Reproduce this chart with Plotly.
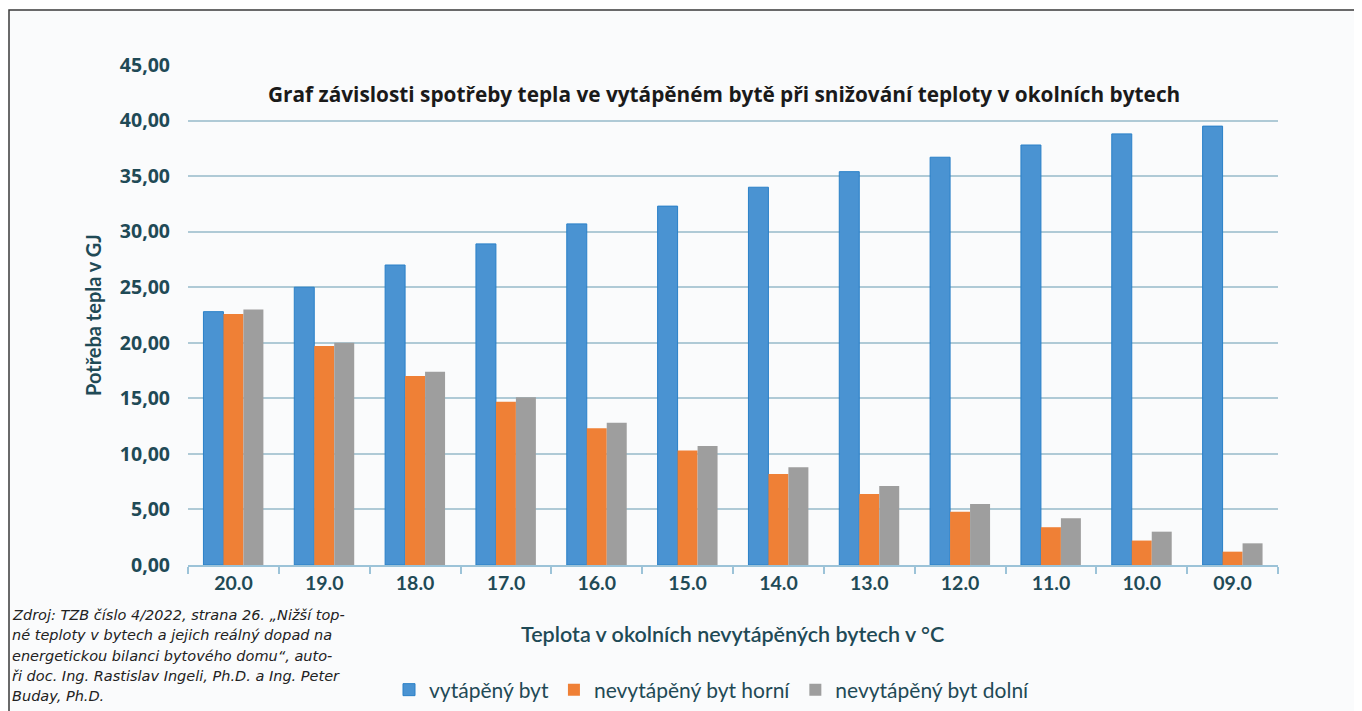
import plotly.graph_objects as go

categories = ["20.0", "19.0", "18.0", "17.0", "16.0", "15.0", "14.0", "13.0", "12.0", "11.0", "10.0", "09.0"]
vytapeny = [22.8, 25.0, 27.0, 28.9, 30.7, 32.3, 34.0, 35.4, 36.7, 37.8, 38.8, 39.5]
horni = [22.6, 19.7, 17.0, 14.7, 12.3, 10.3, 8.2, 6.4, 4.8, 3.4, 2.2, 1.2]
dolni = [23.0, 20.0, 17.4, 15.1, 12.8, 10.7, 8.8, 7.1, 5.5, 4.2, 3.0, 1.95]
y_ticks = [0, 5, 10, 15, 20, 25, 30, 35, 40, 45]
y_tick_labels = ["0,00", "5,00", "10,00", "15,00", "20,00", "25,00", "30,00", "35,00", "40,00", "45,00"]
series_names = ["vytápěný byt", "nevytápěný byt horní", "nevytápěný byt dolní"]
source_lines = [
    "Zdroj: TZB číslo 4/2022, strana 26. „Nižší top-",
    "né teploty v bytech a jejich reálný dopad na",
    "energetickou bilanci bytového domu“, auto-",
    "ři doc. Ing. Rastislav Ingeli, Ph.D. a Ing. Peter",
    "Buday, Ph.D.",
]

# page offset of the figure (body margin)
OFF = 8
W, H = 1362 - OFF, 711 - OFF
PL, PR, PT, PB = 188, 1278, 65, 565  # plot area in page pixels
L, R, T, B = PL - OFF, W - (PR - OFF), PT - OFF, H - (PB - OFF)
PW, PH = PR - PL, PB - PT


def px(x):
    return (x - PL) / PW


def py(y):
    return (PB - y) / PH


fig = go.Figure()
fig.add_trace(go.Bar(x=categories, y=vytapeny, name=series_names[0],
                     marker=dict(color="#4a93d2", line=dict(color="#2a80c8", width=1))))
fig.add_trace(go.Bar(x=categories, y=horni, name=series_names[1],
                     marker=dict(color="#ef8036", line=dict(color="#ef8036", width=0))))
fig.add_trace(go.Bar(x=categories, y=dolni, name=series_names[2],
                     marker=dict(color="#9e9e9e", line=dict(color="#9e9e9e", width=0))))

teal = "#1f4a56"

annotations = [
    dict(text="<b>Graf závislosti spotřeby tepla ve vytápěném bytě při snižování teploty v okolních bytech</b>",
         x=px(724), y=py(94), xref="paper", yref="paper", xanchor="center", yanchor="middle",
         showarrow=False, font=dict(family="Open Sans", size=20.8, color="#1a1a1a")),
    dict(text="<b>Potřeba tepla v GJ</b>", textangle=-90,
         x=px(93), y=py(315), xref="paper", yref="paper", xanchor="center", yanchor="middle",
         showarrow=False, font=dict(family="Lato", size=20, color=teal)),
    dict(text="Teplota v okolních nevytápěných bytech v °C",
         x=px(732), y=py(634), xref="paper", yref="paper", xanchor="center", yanchor="middle",
         showarrow=False, font=dict(family="Lato", size=21.5, color=teal, weight=600)),
]
for i, line in enumerate(source_lines):
    annotations.append(dict(
        text=f"<i>{line}</i>", x=px(10), y=py(615 + 20.3 * i), xref="paper", yref="paper",
        xanchor="left", yanchor="middle", align="left", showarrow=False,
        font=dict(family="DejaVu Sans", size=14.5, color="#222222")))

fig.update_layout(
    width=W, height=H,
    margin=dict(l=L, r=R, t=T, b=B, autoexpand=False),
    paper_bgcolor="white",
    plot_bgcolor="rgba(0,0,0,0)",
    barmode="group",
    bargap=0.34,
    bargroupgap=0.0,
    showlegend=True,
    legend=dict(orientation="h", x=px(389), xanchor="left", y=py(690), yanchor="middle",
                font=dict(family="Lato", size=21, color=teal), bgcolor="rgba(0,0,0,0)",
                itemwidth=30, tracegroupgap=0, traceorder="normal"),
    xaxis=dict(
        type="category",
        tickfont=dict(family="Lato", size=19.5, color=teal, weight="bold"),
        showline=True, linecolor="#9cc3d8", linewidth=1.5,
        ticks="outside", tickson="boundaries", ticklen=7, tickcolor="#9cc3d8", tickwidth=1.5,
        showgrid=False,
    ),
    yaxis=dict(
        range=[0, 45],
        tickvals=y_ticks, ticktext=y_tick_labels,
        tickfont=dict(family="Open Sans", size=19.5, color=teal, weight="bold"),
        ticklabelstandoff=17,
        showgrid=True, gridcolor="#afcad6", gridwidth=1.5,
        zeroline=False, showline=False, ticks="",
    ),
    shapes=[
        dict(type="rect", xref="paper", yref="paper", x0=px(9), x1=px(1375), y0=py(730), y1=py(10),
             fillcolor="#fafbfc", line=dict(width=0), layer="below"),
        dict(type="path", xref="paper", yref="paper",
             path=f"M {px(9)} {py(730)} L {px(9)} {py(10)} L {px(1375)} {py(10)}",
             line=dict(color="#3a3a3a", width=1.5)),
    ],
    annotations=annotations,
)

fig.write_html("out.html")
